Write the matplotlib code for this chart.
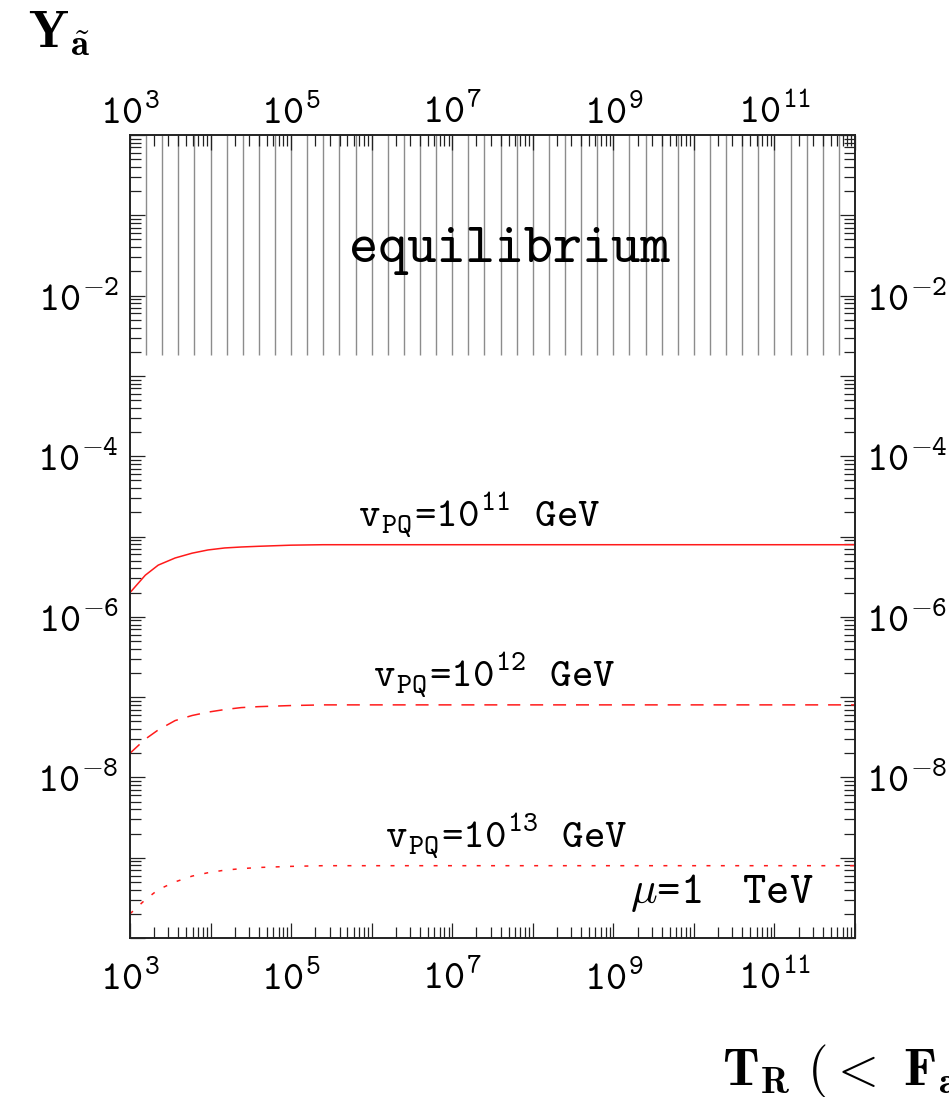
import numpy as np
import matplotlib
matplotlib.use("Agg")
import matplotlib.pyplot as plt
from matplotlib.ticker import FixedLocator, LogLocator, NullFormatter, NullLocator, FuncFormatter

plt.rcParams['mathtext.fontset'] = 'custom'
plt.rcParams['mathtext.rm'] = 'cmtt10'
plt.rcParams['mathtext.tt'] = 'cmtt10'
plt.rcParams['mathtext.it'] = 'cmtt10'
plt.rcParams['mathtext.fallback'] = 'cm'
plt.rcParams['font.family'] = 'cmtt10'

# ---------------- data ----------------
x_TR = [1.0e3, 1.55e3, 2.24e3, 3.63e3, 5.9e3, 9.3e3, 1.5e4, 2.4e4, 3.9e4, 1.0e5, 2.5e5, 1.0e12]
Y_vpq11 = [2.0e-6, 3.3e-6, 4.4e-6, 5.4e-6, 6.2e-6, 6.8e-6, 7.2e-6, 7.4e-6, 7.55e-6, 7.8e-6, 7.9e-6, 7.9e-6]
Y_vpq12 = [2.0e-8, 3.0e-8, 3.9e-8, 5.1e-8, 5.9e-8, 6.5e-8, 7.0e-8, 7.4e-8, 7.6e-8, 7.85e-8, 8.0e-8, 8.0e-8]
Y_vpq13 = [2.0e-10, 3.0e-10, 4.0e-10, 5.0e-10, 5.9e-10, 6.5e-10, 7.0e-10, 7.3e-10, 7.55e-10, 7.8e-10, 7.95e-10, 7.95e-10]
Y_equilibrium = 1.8e-3

x_limits = (1e3, 1e12)
y_limits = (1e-10, 1e0)
x_major_exp = [3, 4, 5, 6, 7, 8, 9, 10, 11, 12]
x_labeled_exp = [3, 5, 7, 9, 11]
y_major_exp = [0, -1, -2, -3, -4, -5, -6, -7, -8, -9, -10]
y_labeled_exp = [-2, -4, -6, -8]

curve_labels = [r'v$_{\mathrm{PQ}}$=10$^{11}$$\ \ \ $GeV',
                r'v$_{\mathrm{PQ}}$=10$^{12}$$\ \ \ $GeV',
                r'v$_{\mathrm{PQ}}$=10$^{13}$$\ \ \ $GeV']
mu_label = r'$\mu$=1$\ \ \ $TeV'
equilibrium_label = 'equilibrium'

# ---------------- figure ----------------
W, H = 949, 1097
fig = plt.figure(figsize=(W / 100, H / 100), dpi=100)
L, R, T, B = 130, 855, 135, 938
ax = fig.add_axes([L / W, 1 - B / H, (R - L) / W, (B - T) / H])

ax.set_xscale('log')
ax.set_yscale('log')
ax.set_xlim(*x_limits)
ax.set_ylim(*y_limits)

red = '#ff1a1a'
ax.plot(x_TR, Y_vpq11, color=red, lw=1.1, solid_capstyle='butt')
ax.plot(x_TR, Y_vpq12, color=red, lw=1.1, linestyle=(0, (8.5, 6.5)))
ax.plot(x_TR, Y_vpq13, color=red, lw=1.1, linestyle=(0, (2.6, 6.8)))

# equilibrium hatching (vertical lines, 0.2-decade spacing)
hatch_x = 10 ** np.arange(3.2, 11.81, 0.2)
ax.vlines(hatch_x, Y_equilibrium, y_limits[1], colors='#8c8c8c', lw=1.0, zorder=1)

# ticks
LABEL_SIZE = 29
ax.xaxis.set_major_locator(FixedLocator([10.0 ** e for e in x_major_exp]))
ax.yaxis.set_major_locator(FixedLocator([10.0 ** e for e in y_major_exp]))
ax.xaxis.set_minor_locator(LogLocator(base=10, subs=range(2, 10), numticks=50))
ax.yaxis.set_minor_locator(LogLocator(base=10, subs=range(2, 10), numticks=50))
ax.xaxis.set_minor_formatter(NullFormatter())
ax.yaxis.set_minor_formatter(NullFormatter())


def fmt_x(v, pos):
    e = int(round(np.log10(v)))
    return r'10$^{%d}$' % e if e in x_labeled_exp else ''


def fmt_y(v, pos):
    e = int(round(np.log10(v)))
    return r'10$^{%d}$' % e if e in y_labeled_exp else ''


ax.xaxis.set_major_formatter(FuncFormatter(fmt_x))
ax.yaxis.set_major_formatter(FuncFormatter(fmt_y))

ax.tick_params(which='both', direction='in', top=True, right=True,
               labeltop=False, labelright=True, width=0.9, color='#222222')
ax.tick_params(which='major', length=11, labelsize=LABEL_SIZE)
ax.tick_params(which='minor', length=8.2)
ax.tick_params(axis='x', which='major', pad=16)
ax.tick_params(axis='y', which='major', pad=8)
for s in ax.spines.values():
    s.set_linewidth(1.4)
    s.set_color('#222222')

# top tick labels via secondary axis (own padding)
secax = ax.secondary_xaxis('top')
secax.xaxis.set_major_locator(FixedLocator([10.0 ** e for e in x_major_exp]))
secax.xaxis.set_minor_locator(NullLocator())
secax.xaxis.set_major_formatter(FuncFormatter(fmt_x))
secax.tick_params(which='major', length=0, pad=2, labelsize=LABEL_SIZE)
secax.spines['top'].set_visible(False)

# ---------------- texts ----------------
def ftext(px, py, s, **kw):
    fig.text(px / W, 1 - py / H, s, **kw)

ftext(509, 262, equilibrium_label, fontsize=40, ha='center', va='baseline')
ftext(358, 527, curve_labels[0], fontsize=29.5, ha='left', va='baseline')
ftext(373, 687, curve_labels[1], fontsize=29.5, ha='left', va='baseline')
ftext(385, 848, curve_labels[2], fontsize=29.5, ha='left', va='baseline')
ftext(630, 903, mu_label, fontsize=32, ha='left', va='baseline', math_fontfamily='cm')

ftext(28, 47, r'$\mathbf{Y}_{\tilde{\mathbf{a}}}$', fontsize=38, ha='left', va='baseline',
      math_fontfamily='cm')
ftext(722, 1085, r'$\mathbf{T}_{\mathbf{R}}\ (<\ \mathbf{F}_{\mathbf{a}})$', fontsize=38,
      ha='left', va='baseline', math_fontfamily='cm')

fig.savefig('out.png', dpi=100)
